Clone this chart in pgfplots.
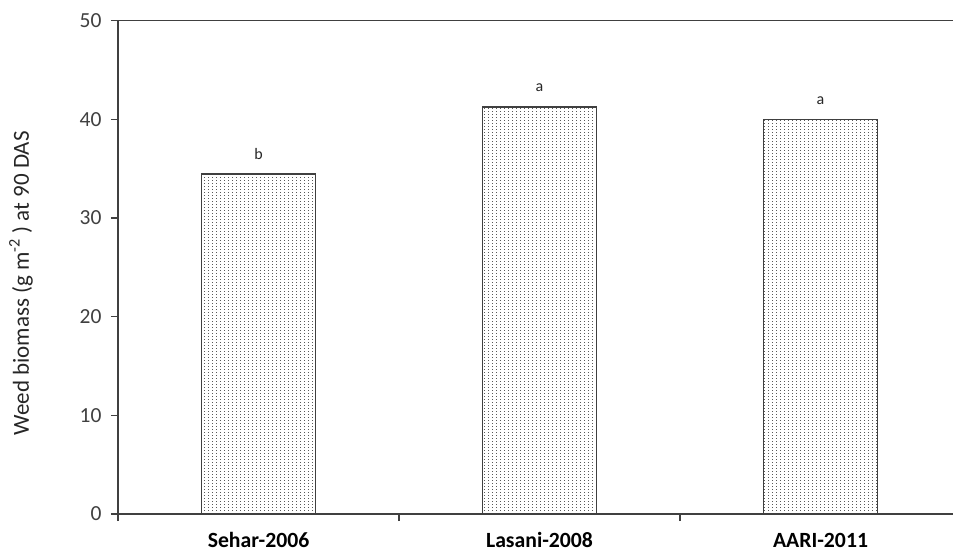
\documentclass[border=0pt]{standalone}
\usepackage{fontspec}
\setmainfont{Carlito}
\usepackage{pgfplots}
\pgfplotsset{compat=1.18}
\usetikzlibrary{patterns}

\definecolor{axisgray}{RGB}{64,64,64}

% small square dots on a 4pt x 3pt grid for the bar fill
\pgfdeclarepatternformonly{bardots}{\pgfqpoint{0pt}{0pt}}{\pgfqpoint{4pt}{3pt}}{\pgfqpoint{4pt}{3pt}}{%
  \pgfpathrectangle{\pgfqpoint{0pt}{0pt}}{\pgfqpoint{1.1pt}{1.1pt}}%
  \pgfusepath{fill}}

\begin{document}
\begin{tikzpicture}
\useasboundingbox (0,0) rectangle (953pt,552pt);
\begin{axis}[
  at={(118pt,38pt)}, anchor=south west,
  scale only axis, width=835pt, height=493.3pt,
  xmin=-0.5, xmax=2.4715, ymin=0, ymax=50,
  axis x line*=bottom, axis y line*=left,
  axis line style={line width=1.5pt, draw=axisgray, -},
  tick align=outside, major tick length=7pt,
  tick style={draw=axisgray, line width=1.5pt},
  ytick={0,10,...,50},
  xtick={-0.5,0.5,1.5}, xticklabels={},
  extra x ticks={0,1,2},
  extra x tick labels={Sehar-2006,Lasani-2008,AARI-2011},
  extra x tick style={major tick length=0pt, tick style={draw=none}},
  /pgf/number format/assume math mode=true,
  yticklabel style={font=\fontsize{21.5}{26}\selectfont, text=axisgray, xshift=-6pt},
  xticklabel style={font=\bfseries\fontsize{21.7}{26}\selectfont, text=black,
    anchor=base, yshift=-33pt, inner sep=1pt},
  ylabel={Weed biomass (g m\textsuperscript{-2} ) at 90 DAS},
  every axis y label/.style={at={([xshift=-97pt,yshift=-16pt]rel axis cs:0,0.5)},
    rotate=90, anchor=center, font=\fontsize{23}{28}\selectfont, text=black!85},
]
\addplot[ybar, bar width=114pt, draw=axisgray, line width=1.6pt,
  pattern=bardots, pattern color=black!65,
  nodes near coords, point meta=explicit symbolic,
  every node near coord/.append style={font=\fontsize{16}{19}\selectfont,
    anchor=base, yshift=15pt, text=black!85}]
  coordinates {(0,34.45) [b] (1,41.27) [a] (2,40.0) [a]};
\draw[line width=1.5pt, draw=axisgray] (rel axis cs:0,1) -- (rel axis cs:1,1);
\end{axis}
\end{tikzpicture}
\end{document}
